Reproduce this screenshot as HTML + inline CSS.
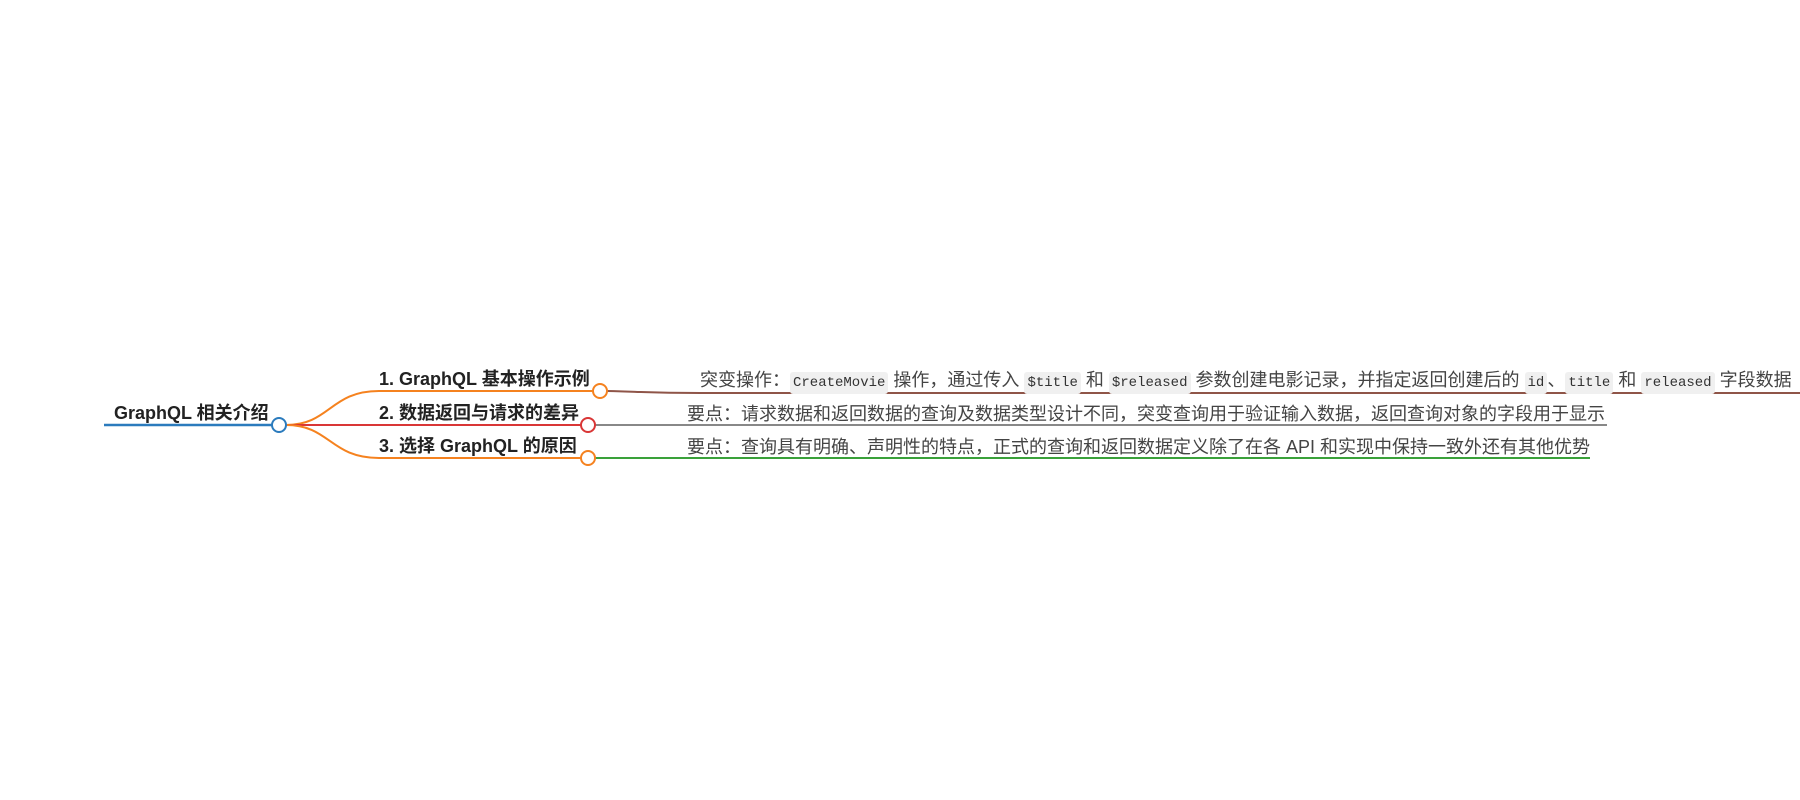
<!DOCTYPE html>
<html><head><meta charset="utf-8"><style>
html,body{margin:0;padding:0;background:#fff;width:1800px;height:800px;overflow:hidden;position:relative;font-family:"Liberation Sans","Noto Sans CJK SC",sans-serif;color:#333}
.t{position:absolute;white-space:nowrap;line-height:24px}
.b{font-weight:bold;font-size:18px;color:#222}
.l{font-size:18px;color:#444}
code{font-family:"Liberation Mono",monospace;font-size:14px;background:#f0f0f0;padding:3px 3px;border-radius:3px;color:#333}
</style></head><body>
<svg width="1800" height="800" style="position:absolute;left:0;top:0">
<line x1="104" y1="425" x2="272" y2="425" stroke="#2b7bbd" stroke-width="2.5"/>
<path d="M286 425 C330 425 330 391 379 391 L593 391" stroke="#f5821f" stroke-width="2" fill="none"/>
<path d="M286 425 L581 425" stroke="#d93636" stroke-width="2" fill="none"/>
<path d="M286 425 C330 425 330 458 379 458 L581 458" stroke="#f5821f" stroke-width="2" fill="none"/>
<path d="M607 391 C650 392 650 393 700 393 L1800 393" stroke="#8f5548" stroke-width="2" fill="none"/>
<line x1="595" y1="425" x2="1607" y2="425" stroke="#888" stroke-width="2"/>
<line x1="595" y1="458" x2="1590" y2="458" stroke="#3aa13a" stroke-width="2"/>
<circle cx="279" cy="425" r="7" fill="#fff" stroke="#2b7bbd" stroke-width="2"/>
<circle cx="600" cy="391" r="7" fill="#fff" stroke="#f5821f" stroke-width="2"/>
<circle cx="588" cy="425" r="7" fill="#fff" stroke="#d93636" stroke-width="2"/>
<circle cx="588" cy="458" r="7" fill="#fff" stroke="#f5821f" stroke-width="2"/>
</svg>
<div class="t b" style="left:114px;top:401px">GraphQL 相关介绍</div>
<div class="t b" style="left:379px;top:367px">1. GraphQL 基本操作示例</div>
<div class="t b" style="left:379px;top:401px">2. 数据返回与请求的差异</div>
<div class="t b" style="left:379px;top:434px">3. 选择 GraphQL 的原因</div>
<div class="t l" style="left:700px;top:368px">突变操作：<code>CreateMovie</code> 操作，通过传入 <code>$title</code> 和 <code>$released</code> 参数创建电影记录，并指定返回创建后的 <code>id</code>、<code>title</code> 和 <code>released</code> 字段数据</div>
<div class="t l" style="left:687px;top:402px">要点：请求数据和返回数据的查询及数据类型设计不同，突变查询用于验证输入数据，返回查询对象的字段用于显示</div>
<div class="t l" style="left:687px;top:435px">要点：查询具有明确、声明性的特点，正式的查询和返回数据定义除了在各 API 和实现中保持一致外还有其他优势</div>
</body></html>
